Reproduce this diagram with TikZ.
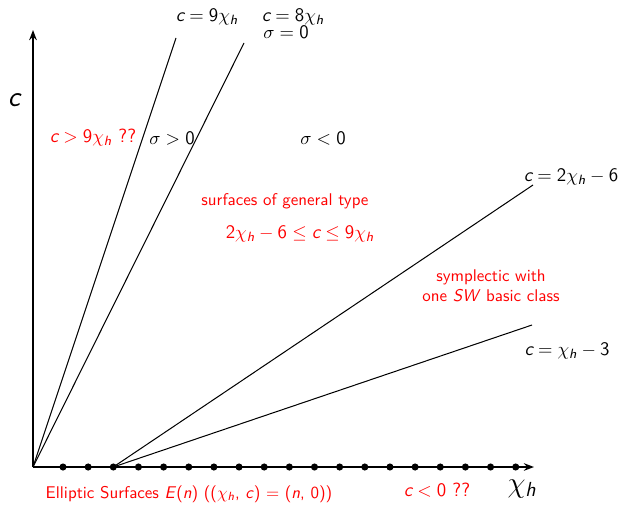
\documentclass[tikz,border=0pt]{standalone}
\usepackage{amsmath}
\usetikzlibrary{arrows.meta}
\newcommand{\vc}{\text{\itshape c}}
\newcommand{\xh}{\chi_{\text{\itshape h}}}
\newcommand{\sd}[1]{\text{#1}}
\begin{document}
\begin{tikzpicture}[x=0.59pt,y=-0.59pt,
  font=\sffamily,
  lbl/.style={inner sep=0pt},
  redl/.style={lbl,text=red},
  mth/.style={font=\sffamily\fontsize{11.3}{13}\selectfont},
  ln/.style={line width=0.6pt},
  ax/.style={line width=1.1pt,-{Stealth[length=6pt,width=4.5pt]}},
  dot/.style={circle,fill=black,inner sep=0pt,minimum size=4.2pt}]
\useasboundingbox (0,0) rectangle (623,507);
\coordinate (O) at (33,467);
\coordinate (Ytop) at (33,30);
\coordinate (Xend) at (534,467);
\draw[ax] (O) -- (Ytop);
\draw[ax] (O) -- (Xend);
\foreach \i in {1,...,19} \node[dot] (d\i) at ({63+25.15*(\i-1)},467) {};
\coordinate (A9) at (176,38);
\coordinate (A8) at (244,43);
\coordinate (A2) at (533,185);
\coordinate (A1) at (532,325);
\draw[ln] (O) -- (A9);
\draw[ln] (O) -- (A8);
\draw[ln] (d3.center) -- (A2);
\draw[ln] (d3.center) -- (A1);
\node[lbl,mth] (l9) at (207,17) {$\vc = \sd{9}\xh$};
\node[lbl,mth] (l8) at (293,17) {$\vc = \sd{8}\xh$};
\node[lbl,mth] (s0) at (286,32) {$\sigma = \sd{0}$};
\node[lbl,font=\sffamily\LARGE] (lc) at (14,100) {\itshape c};
\node[redl,mth] (lgt) at (93,138) {$\vc > \sd{9}\xh$ ??};
\node[lbl,mth] (sp) at (172,138) {$\sigma > \sd{0}$};
\node[lbl,mth] (sn) at (323,138) {$\sigma < \sd{0}$};
\node[lbl,mth] (l2) at (571,177) {$\vc = \sd{2}\xh - \sd{6}$};
\node[redl] (gt) at (285,201) {surfaces of general type};
\node[redl,mth] (ineq) at (300,234) {$\sd{2}\xh - \sd{6} \le \vc \le \sd{9}\xh$};
\node[redl,align=center] (sym) at (491,286) {symplectic with\\one \textit{SW} basic class};
\node[lbl,mth] (l1) at (567,351) {$\vc = \xh - \sd{3}$};
\node[lbl,font=\sffamily\LARGE] (lx) at (522,489) {$\chi_{\text{\itshape h}}$};
\node[redl] (ell) at (189,494) {Elliptic Surfaces \textit{E}(\textit{n}) (($\xh$, \textit{c})~$=$~(\textit{n}, 0))};
\node[redl,mth] (neg) at (437,490) {$\vc < \sd{0}$ ??};
\end{tikzpicture}
\end{document}
